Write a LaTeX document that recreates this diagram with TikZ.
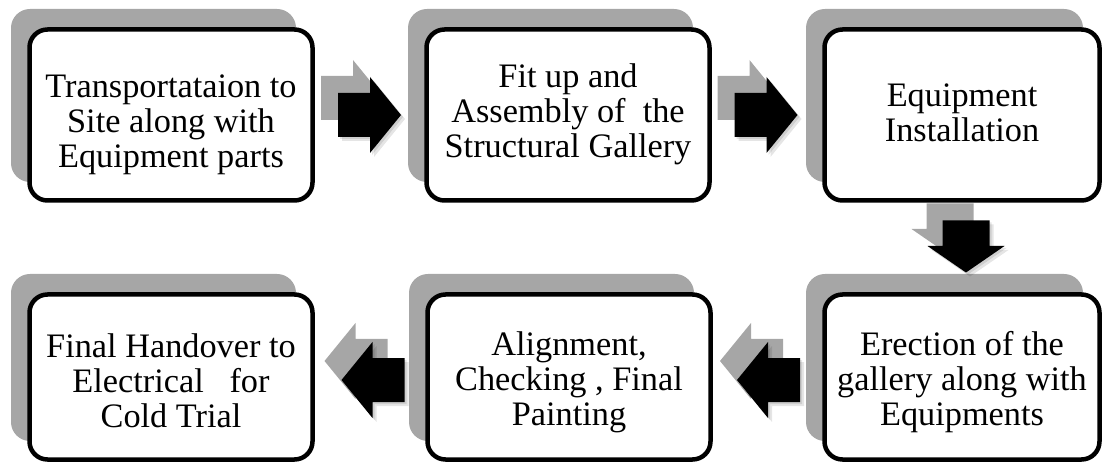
\documentclass[tikz,border=0pt]{standalone}
\usepackage{fontspec}
\setmainfont{Liberation Serif}
\usetikzlibrary{calc,shadows}
\definecolor{shade}{RGB}{166,166,166}
\tikzset{
  stage/.style={draw=black, line width=4.5pt, fill=white, rounded corners=18pt,
    inner sep=0pt,
    general shadow={fill=shade, draw=shade, line width=2pt,
      shadow xshift=-17.5pt, shadow yshift=19.5pt}},
  wide/.style={minimum width=283pt},
  narrow/.style={minimum width=275pt},
  tall/.style={minimum height=171pt},
  short/.style={minimum height=165pt},
  % the text box is measured from the baseline of its last line
  stagetext/.style={align=center, inner sep=0pt, text height=24pt, text depth=8pt,
    font=\fontsize{34.3}{35}\selectfont},
  hblock/.pic={\path[pic actions] (-31.5,-22) -- (0.5,-22) -- (0.5,-38) -- (31.5,0)
    -- (0.5,38) -- (0.5,22) -- (-31.5,22) -- cycle;},
  vblock/.pic={\path[pic actions] (-26,-23.5) -- (-0.5,-23.5) -- (-0.5,-38.5) -- (26,0)
    -- (-0.5,38.5) -- (-0.5,23.5) -- (-26,23.5) -- cycle;},
  haze/.style={fill=black, opacity=0.10},
}
\begin{document}
\begin{tikzpicture}[x=1pt, y=-1pt]
\useasboundingbox (0,0) rectangle (1104,465);

% process stages
\node[stage, wide, tall]   (b1) at (171,115) {};
\node[stage, wide, tall]   (b2) at (568,115) {};
\node[stage, narrow, tall] (b3) at (962,115) {};
\node[stage, narrow, short] (b4) at (962,377) {};
\node[stage, wide, short]  (b5) at (569,377) {};
\node[stage, wide, short]  (b6) at (171,377) {};

\node[stagetext] (t1) at ([yshift=-45pt]b1.center) {Transportataion to\\Site along with\\Equipment parts};
\node[stagetext] (t2) at ([yshift=-35pt]b2.center) {Fit up and\\Assembly of\ \ the\\Structural Gallery};
\node[stagetext] (t3) at ([yshift=-19pt]b3.center) {Equipment\\Installation};
\node[stagetext] (t4) at ([yshift=-40pt]b4.center) {Erection of the\\gallery along with\\Equipments};
\node[stagetext] (t5) at ([yshift=-40pt]b5.center) {Alignment,\\Checking , Final\\Painting};
\node[stagetext] (t6) at ([yshift=-42pt]b6.center) {Final Handover to\\Electrical\ \ \ for\\Cold Trial};

% block arrows between stages
\coordinate (a1) at ($(b1.east)!0.5!(b2.west)$);
\coordinate (a2) at ($(b2.east)!0.5!(b3.west) + (-1,0)$);
\coordinate (a3) at ($(b3.south)!0.5!(b4.north) + (4,-1)$);
\coordinate (a4) at ($(b4.west)!0.5!(b5.east) + (1,3)$);
\coordinate (a5) at ($(b5.west)!0.5!(b6.east) + (3,3)$);

\foreach \p in {a1,a2}{
  \pic[fill=shade] at ([xshift=-17pt, yshift=17pt]\p) {hblock};
  \pic[haze] at ([xshift=2pt, yshift=-2pt]\p) {hblock};
  \pic[haze] at ([xshift=4pt, yshift=-4pt]\p) {hblock};
  \pic[fill=black] at (\p) {hblock};
}
\pic[fill=shade, rotate=-90] at ([xshift=-16pt, yshift=17pt]a3) {vblock};
\pic[haze, rotate=-90] at ([xshift=2pt, yshift=-2pt]a3) {vblock};
\pic[haze, rotate=-90] at ([xshift=4pt, yshift=-4pt]a3) {vblock};
\pic[fill=black, rotate=-90] at (a3) {vblock};
\foreach \p in {a4,a5}{
  \pic[fill=shade, rotate=180] at ([xshift=-17pt, yshift=19pt]\p) {hblock};
  \pic[haze, rotate=180] at ([xshift=2pt, yshift=-2pt]\p) {hblock};
  \pic[haze, rotate=180] at ([xshift=4pt, yshift=-4pt]\p) {hblock};
  \pic[fill=black, rotate=180] at (\p) {hblock};
}
\end{tikzpicture}
\end{document}
